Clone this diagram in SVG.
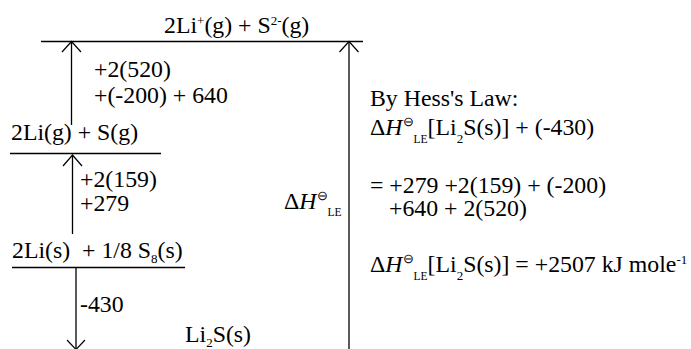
<svg xmlns="http://www.w3.org/2000/svg" width="691" height="349" viewBox="0 0 691 349">
<style>
text{font-family:"Liberation Serif","Times New Roman",serif;font-size:23.8px;fill:#000;white-space:pre}
.s{font-size:13px}
.t{font-size:11.5px}
.i{font-style:italic}
.ln{stroke:#000;stroke-width:1.3;fill:none}
.ah{stroke:#000;stroke-width:1.2;fill:none}
</style>
<rect width="691" height="349" fill="#fff"/>
<g id="level-ions">
<line class="ln" x1="41" y1="41.5" x2="363" y2="41.5"/>
<text x="164" y="33">2Li<tspan class="s" dy="-8">+</tspan><tspan dy="8">(g) + S</tspan><tspan class="s" dy="-8">2-</tspan><tspan dy="8">(g)</tspan></text>
</g>
<g id="level-gas">
<line class="ln" x1="10" y1="153.5" x2="161" y2="153.5"/>
<text x="11" y="140">2Li(g) + S(g)</text>
</g>
<g id="level-elements">
<line class="ln" x1="12" y1="267.5" x2="185" y2="267.5"/>
<text x="12" y="258" xml:space="preserve">2Li(s)  + 1/8 S<tspan class="s" dy="5">8</tspan><tspan dy="-5">(s)</tspan></text>
</g>
<g id="product">
<text x="185" y="342">Li<tspan class="s" dy="5">2</tspan><tspan dy="-5">S(s)</tspan></text>
</g>
<g id="connectors">
<line class="ln" x1="71.5" y1="42" x2="71.5" y2="125"/>
<polyline class="ah" points="62,52 71.5,41.5 81,52"/>
<line class="ln" x1="72.5" y1="155" x2="72.5" y2="234"/>
<polyline class="ah" points="63,166 72.5,155 82,166"/>
<line class="ln" x1="76" y1="268" x2="76" y2="349"/>
<polyline class="ah" points="67,340 76,349.5 85,340"/>
<line class="ln" x1="349" y1="42" x2="349" y2="349"/>
<polyline class="ah" points="339.5,52 349,41.5 358.5,52"/>
</g>
<g id="labels">
<text x="94" y="77">+2(520)</text>
<text x="94" y="103">+(-200) + 640</text>
<text x="80" y="187">+2(159)</text>
<text x="80" y="211">+279</text>
<text x="80" y="312">-430</text>
<text x="284" y="209">Δ<tspan class="i">H</tspan><tspan class="s" dy="-9">⊖</tspan><tspan class="t" dy="16">LE</tspan></text>
</g>
<g id="hess">
<text x="370" y="106">By Hess's Law:</text>
<text x="370" y="135">Δ<tspan class="i">H</tspan><tspan class="s" dy="-9">⊖</tspan><tspan class="t" dy="17">LE</tspan><tspan dy="-8">[Li</tspan><tspan class="s" dy="8">2</tspan><tspan dy="-8">S(s)] + (-430)</tspan></text>
<text x="370" y="193">= +279 +2(159) + (-200)</text>
<text x="389" y="216">+640 + 2(520)</text>
<text x="370" y="272">Δ<tspan class="i">H</tspan><tspan class="s" dy="-9">⊖</tspan><tspan class="t" dy="17">LE</tspan><tspan dy="-8">[Li</tspan><tspan class="s" dy="8">2</tspan><tspan dy="-8">S(s)] = +2507 kJ mole</tspan><tspan class="s" dy="-8">-1</tspan></text>
</g>
</svg>
